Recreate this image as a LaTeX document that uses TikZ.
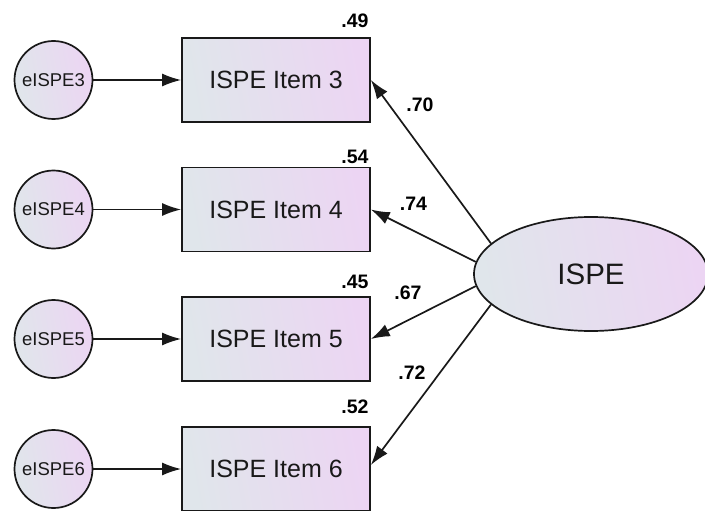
\documentclass[tikz,border=0pt]{standalone}
\usepackage{fontspec}
\setmainfont{Liberation Sans}
\usetikzlibrary{arrows.meta,shapes.geometric}
\definecolor{fillL}{RGB}{224,230,235}
\definecolor{fillR}{RGB}{236,213,243}
\definecolor{edge}{RGB}{25,25,25}
\tikzset{
  base/.style={draw=edge,line width=1.7pt,shading=axis,left color=fillL,right color=fillR,shading angle=100,text=black!90},
  itembox/.style={base,rectangle,minimum width=188pt,minimum height=84pt,inner sep=0pt,font=\fontsize{25}{30}\selectfont},
  errcirc/.style={base,circle,minimum size=78pt,inner sep=0pt,font=\fontsize{18.5}{22}\selectfont},
  latent/.style={base,ellipse,minimum width=234pt,minimum height=114pt,inner sep=0pt,font=\fontsize{29.5}{34}\selectfont},
  coef/.style={font=\bfseries\fontsize{19.5}{23}\selectfont,inner sep=0pt},
  path/.style={draw=edge,line width=1.7pt,-{Latex[length=19pt,width=13pt]}}
}
\begin{document}
\begin{tikzpicture}[x=1pt,y=-1pt]
\useasboundingbox (0,0) rectangle (705,511);
% observed items
\node[itembox] (item3) at (276,80) {ISPE Item 3};
\node[itembox] (item4) at (276,209.5) {ISPE Item 4};
\node[itembox] (item5) at (276,339) {ISPE Item 5};
\node[itembox] (item6) at (276,469) {ISPE Item 6};
% error terms
\node[errcirc] (e3) at (53.5,80) {eISPE3};
\node[errcirc] (e4) at (53.5,209.5) {eISPE4};
\node[errcirc] (e5) at (53.5,339) {eISPE5};
\node[errcirc] (e6) at (53.5,469) {eISPE6};
% latent factor
\node[latent] (ispe) at (591,274) {ISPE};
% error paths
\draw[path] (e3) -- (item3);
\draw[path] (e4) -- (item4);
\draw[path] (e5) -- (item5);
\draw[path] (e6) -- (item6);
% loadings
\draw[path] (ispe.163) -- (item3.east);
\draw[path] (ispe.174) -- (item4.east);
\draw[path] (ispe.186.5) -- (item5.east);
\draw[path] (ispe.197) -- ([yshift=4pt]item6.east);
% squared multiple correlations
\node[coef] (r3) at (355,21) {.49};
\node[coef] (r4) at (355,157) {.54};
\node[coef] (r5) at (355,282) {.45};
\node[coef] (r6) at (355,407) {.52};
% standardized loadings
\node[coef] (l3) at (420,105) {.70};
\node[coef] (l4) at (413.5,204) {.74};
\node[coef] (l5) at (408,293) {.67};
\node[coef] (l6) at (412,373) {.72};
\end{tikzpicture}
\end{document}
